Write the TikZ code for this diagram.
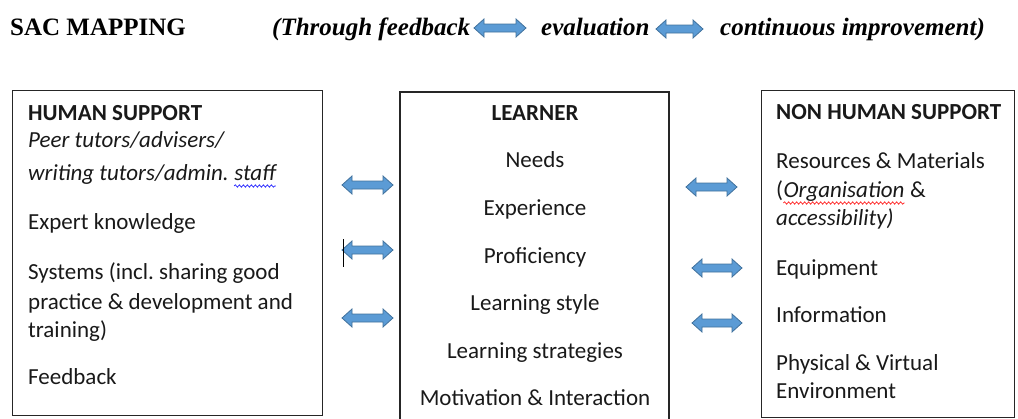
\documentclass[tikz,border=0pt]{standalone}
\usepackage{fontspec}
\setmainfont{Carlito}
\newfontfamily\timesfont{Liberation Serif}
\usetikzlibrary{decorations.pathmorphing}
\definecolor{arrfill}{HTML}{5B9BD5}
\definecolor{arrline}{HTML}{41719C}
\frenchspacing
\newcommand\DArrow[4]{% name, x, y, half length
  \begin{scope}[shift={(#2,#3)}]
    \path[dblarr] (-#4,0) -- (-#4+10,-9) -- (-#4+10,-4) -- (#4-10,-4) -- (#4-10,-9) -- (#4,0)
      -- (#4-10,9) -- (#4-10,4) -- (-#4+10,4) -- (-#4+10,9) -- cycle;
    \coordinate (#1) at (0,0);
  \end{scope}}
\begin{document}
\begin{tikzpicture}[x=1pt,y=-1pt,
  box/.style={draw=black!85, line width=1.2pt, inner sep=0pt},
  dblarr/.style={fill=arrfill, draw=arrline, line width=0.8pt, line join=miter},
  fs/.style={font=\fontsize{23}{27}\selectfont},
  txt/.style={anchor=base west, inner sep=0pt, text=black!90, execute at begin node=\frenchspacing, font=\fontsize{23}{27}\selectfont},
  ctxt/.style={anchor=base, inner sep=0pt, text=black!90, font=\fontsize{23}{27}\selectfont},
  btxt/.style={font=\bfseries\fontsize{23}{27}\selectfont},
  itxt/.style={font=\itshape\fontsize{23}{27}\selectfont},
  head/.style={anchor=base west, inner sep=0pt, font=\timesfont\bfseries\fontsize{25}{30}\selectfont},
  ihead/.style={anchor=base west, inner sep=0pt, font=\timesfont\bfseries\itshape\fontsize{25}{30}\selectfont},
  wavy/.style={line width=0.7pt, decorate, decoration={snake, amplitude=1.2pt, segment length=4pt}}
]
\useasboundingbox (0,0) rectangle (1018,418);

% header
\node[head] (title) at (10,35) {SAC MAPPING};
\node[ihead] (h1) at (272,35) {(Through feedback};
\node[ihead] (h2) at (541,35) {evaluation};
\node[ihead] (h3) at (720,35) {continuous improvement)};
\DArrow{ha1}{500}{28}{26}
\DArrow{ha2}{679.5}{29}{23.5}

% boxes
\node[box, anchor=north west, minimum width=310, minimum height=325] (human) at (12,90) {};
\draw[box] (400,419) coordinate (lbl) -- (400,92) -- (669,92) -- (669,419);
\node[box, anchor=north west, minimum width=253, minimum height=327] (nonhuman) at (761,90) {};

% left box text
\node[txt, btxt] (hs) at (28,120) {HUMAN SUPPORT};
\node[txt, itxt] (hs1) at (28,147) {Peer tutors/advisers/};
\node[txt, itxt] (hs2) at (28,180) {writing tutors/admin.};
\node[txt, itxt] (hs2b) at ([xshift=5.2pt]hs2.base east) {staff};
\draw[wavy, blue!85] ([yshift=-6pt]hs2b.base west) -- ([yshift=-6pt]hs2b.base east);
\node[txt] (hs3) at (28,229) {Expert knowledge};
\node[txt] (hs4) at (28,279) {Systems (incl. sharing good};
\node[txt] (hs5) at (28,309) {practice \& development and};
\node[txt] (hs6) at (28,337) {training)};
\node[txt] (hs7) at (28,384) {Feedback};

% middle box text
\node[ctxt, btxt] (ln) at (535,120) {LEARNER};
\node[ctxt] (ln1) at (535,167) {Needs};
\node[ctxt] (ln2) at (535,215) {Experience};
\node[ctxt] (ln3) at (535,263) {Proficiency};
\node[ctxt] (ln4) at (535,310) {Learning style};
\node[ctxt] (ln5) at (535,358) {Learning strategies};
\node[ctxt] (ln6) at (535,405) {Motivation \& Interaction};

% right box text
\node[txt, btxt] (nh) at (776,119) {NON HUMAN SUPPORT};
\node[txt] (nh1) at (776,168) {Resources \& Materials};
\node[txt] (nh2a) at (776,197) {(};
\node[txt, itxt] (nh2b) at (nh2a.base east) {Organisation};
\node[txt] (nh2c) at (nh2b.base east) {\ \&};
\draw[wavy, red!85] ([yshift=-6pt]nh2b.base west) -- ([yshift=-6pt]nh2b.base east);
\node[txt, itxt] (nh3) at (776,225) {accessibility)};
\node[txt] (nh4) at (776,275) {Equipment};
\node[txt] (nh5) at (776,322) {Information};
\node[txt] (nh6) at (776,370) {Physical \& Virtual};
\node[txt] (nh7) at (776,398) {Environment};

% arrows between boxes
\DArrow{la1}{367.5}{185}{25.5}
\DArrow{la2}{367.5}{250}{25.5}
\DArrow{la3}{367.5}{318}{25.5}
\DArrow{ra1}{711.5}{187}{25.5}
\DArrow{ra2}{717}{268}{25}
\DArrow{ra3}{717}{323}{25}
\draw[line width=1pt] (343,239) -- (343,267);
\end{tikzpicture}
\end{document}
